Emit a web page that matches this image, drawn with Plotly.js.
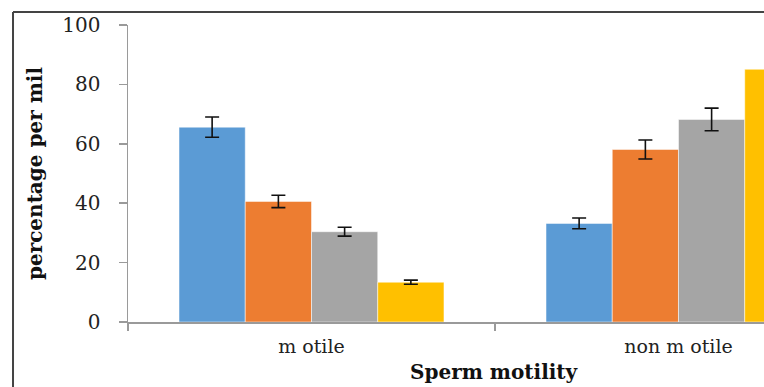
<!DOCTYPE html>
<html>
<head>
<meta charset="utf-8">
<script src="https://cdn.plot.ly/plotly-3.0.1.min.js"></script>
<style>html,body{margin:0;padding:0;background:#fff;}#chart{width:764px;height:387px;}</style>
</head>
<body>
<div id="chart"></div>
<script>
var categories = ["m otile", "non m otile"];
var seriesNames = ["Group 1", "Group 2", "Group 3", "Group 4"];
var seriesColors = ["#5B9BD5", "#ED7D31", "#A5A5A5", "#FFC000"];
var group1 = [65.6, 33.2];
var group1Err = [3.4, 1.8];
var group2 = [40.6, 58.1];
var group2Err = [2.1, 3.2];
var group3 = [30.4, 68.2];
var group3Err = [1.5, 3.8];
var group4 = [13.4, 85.1];
var group4Err = [0.7, 2.5];
var yTicks = [0, 20, 40, 60, 80, 100];
var xTitle = "Sperm motility";
var yTitle = "percentage per mil";

var values = [group1, group2, group3, group4];
var errs = [group1Err, group2Err, group3Err, group4Err];
var serif = "'DejaVu Serif', serif";

var data = values.map(function (v, i) {
  return {
    type: "bar",
    name: seriesNames[i],
    x: categories,
    y: v,
    marker: { color: seriesColors[i], line: { color: "rgba(255,255,255,0.5)", width: 1 } },
    error_y: { type: "data", array: errs[i], visible: true, color: "#111", thickness: 1.6, width: 7 },
    showlegend: false,
    hoverinfo: "none"
  };
});

var layout = {
  width: 764,
  height: 387,
  margin: { l: 128, r: 0, t: 25, b: 65, pad: 0 },
  paper_bgcolor: "#fff",
  plot_bgcolor: "#fff",
  barmode: "group",
  bargap: 0.278,
  bargroupgap: 0,
  font: { family: serif, color: "#222" },
  xaxis: {
    type: "category",
    range: [-0.5, 1.233],
    showline: true,
    linecolor: "#9a9a9a",
    linewidth: 1.5,
    ticks: "outside",
    tickson: "boundaries",
    ticklen: 7,
    tickcolor: "#9a9a9a",
    tickwidth: 1.5,
    showgrid: false,
    zeroline: false,
    ticklabelstandoff: 7,
    tickfont: { family: serif, size: 19, color: "#222" }
  },
  yaxis: {
    range: [0, 100],
    tickvals: yTicks,
    showline: true,
    linecolor: "#9a9a9a",
    linewidth: 1.5,
    ticks: "outside",
    ticklen: 8,
    tickcolor: "#9a9a9a",
    tickwidth: 1.5,
    showgrid: false,
    zeroline: false,
    ticklabelstandoff: 14,
    tickfont: { family: serif, size: 20, color: "#222" },
    title: { text: yTitle, font: { family: serif, size: 20, color: "#111", weight: "bold" }, standoff: 14 }
  },
  annotations: [
    { text: xTitle, xref: "paper", yref: "paper", x: 0.577, y: -0.168, xanchor: "center", yanchor: "middle",
      showarrow: false, font: { family: serif, size: 20, color: "#111", weight: "bold" } }
  ],
  shapes: [
    { type: "line", xref: "paper", yref: "paper", x0: -0.1808, x1: -0.1808, y0: 1.044, y1: -0.25, line: { color: "#444", width: 2 } },
    { type: "line", xref: "paper", yref: "paper", x0: -0.1808, x1: 1.05, y0: 1.044, y1: 1.044, line: { color: "#444", width: 2 } }
  ]
};

Plotly.newPlot("chart", data, layout, { displayModeBar: false, staticPlot: true });
</script>
</body>
</html>
